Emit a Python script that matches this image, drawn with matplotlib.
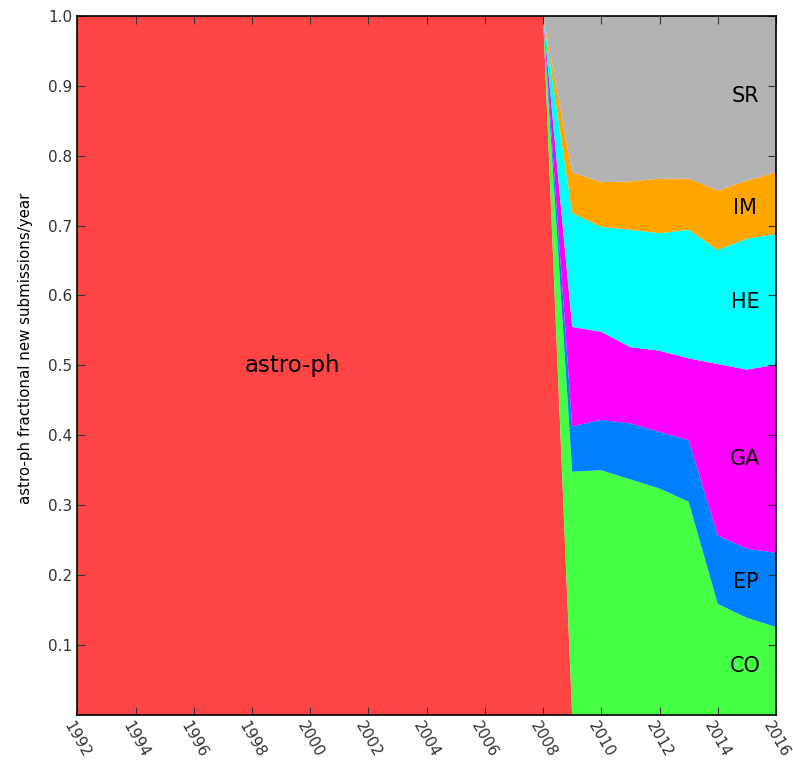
import matplotlib
matplotlib.use('Agg')
import matplotlib.pyplot as plt
import numpy as np

# fractions of new astro-ph submissions per year, by subcategory
years = list(range(1992, 2017))
split_years = list(range(2009, 2017))
astro_ph_pre = [1.0] * 17  # 1992 - 2008 everything is plain astro-ph

CO = [0.348, 0.350, 0.337, 0.324, 0.305, 0.159, 0.139, 0.126]
EP = [0.065, 0.072, 0.080, 0.081, 0.088, 0.098, 0.099, 0.106]
GA = [0.142, 0.126, 0.109, 0.116, 0.117, 0.245, 0.256, 0.269]
HE = [0.163, 0.150, 0.168, 0.168, 0.184, 0.163, 0.187, 0.187]
IM = [0.058, 0.064, 0.069, 0.078, 0.073, 0.085, 0.083, 0.088]
SR = [0.224, 0.238, 0.237, 0.233, 0.233, 0.250, 0.236, 0.224]

names = ['CO', 'EP', 'GA', 'HE', 'IM', 'SR']
colors = ['#ff4444', '#44ff44', '#0080ff', '#ff00ff', '#00ffff', '#ffa500', '#b3b3b3']
label_y = [0.07, 0.19, 0.366, 0.59, 0.725, 0.885]


def pad(vals):
    return [0.0] * (len(years) - len(vals)) + list(vals)


astro_ph = astro_ph_pre + [0.0] * len(split_years)
series = [astro_ph] + [pad(s) for s in (CO, EP, GA, HE, IM, SR)]

fig = plt.figure(figsize=(7.93, 7.66), dpi=100)
ax = fig.add_axes([0.0975, 0.0665, 0.881, 0.913])
ax.stackplot(years, *series, colors=colors, linewidth=0)

ax.set_xlim(1992, 2016)
ax.set_ylim(0, 1.0)
ax.set_xticks(range(1992, 2017, 2))
ax.set_yticks(np.arange(0.1, 1.01, 0.1))
ax.set_yticklabels([f'{v:.1f}' for v in np.arange(0.1, 1.01, 0.1)])
ax.tick_params(direction='in', top=True, right=True, length=6, labelsize=11,
               colors='#333333')
ax.tick_params(axis='x', labelrotation=-60, pad=3)
for lab in ax.get_xticklabels():
    lab.set_ha('center')
for sp in ax.spines.values():
    sp.set_linewidth(1.2)
ax.set_ylabel('astro-ph fractional new submissions/year', fontsize=10.8)
ax.yaxis.set_label_coords(-0.064, 0.524)

ax.text(1999.4, 0.5, 'astro-ph', fontsize=16.5, ha='center', va='center')
for n, y in zip(names, label_y):
    ax.text(2014.95, y, n, fontsize=15, ha='center', va='center')

fig.savefig('out.png', dpi=100)
